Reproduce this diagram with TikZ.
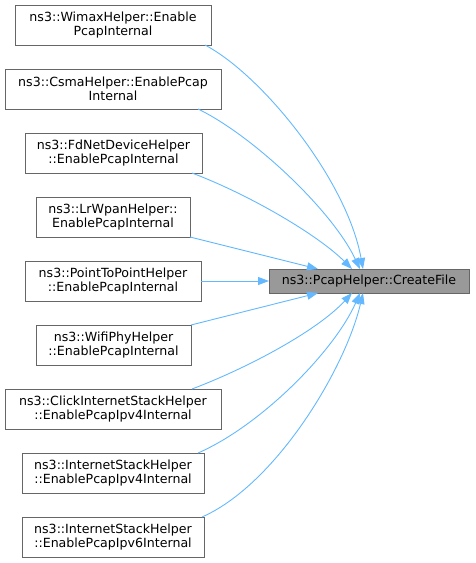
\documentclass[tikz,border=0pt]{standalone}
\usepackage{fontspec}
\setmainfont{DejaVu Sans}
\usetikzlibrary{arrows.meta}
\definecolor{edgeblue}{HTML}{63B8FF}
\definecolor{boxgray}{HTML}{666666}
\definecolor{tgtfill}{HTML}{999999}
\begin{document}
\begin{tikzpicture}[x=1pt,y=-1pt,
  fn/.style={draw=boxgray,line width=1pt,fill=white,inner sep=0pt,outer sep=0pt,
    align=center,minimum height=40pt,font=\fontsize{12.6}{14.5}\selectfont},
  tgt/.style={fn,fill=tgtfill,minimum height=24pt,minimum width=200pt,draw=boxgray},
  calls/.style={draw=edgeblue,line width=0.9pt,-{Triangle[length=11pt,width=8pt]}}]
\useasboundingbox (0,0) rectangle (475,563);
\node[fn,minimum width=196pt] (wimax) at (113,25) {ns3::WimaxHelper::Enable\\PcapInternal};
\node[fn,minimum width=216pt] (csma) at (113,89) {ns3::CsmaHelper::EnablePcap\\Internal};
\node[fn,minimum width=177pt] (fdnet) at (113.5,153) {ns3::FdNetDeviceHelper\\::EnablePcapInternal};
\node[fn,minimum width=154pt] (lrwpan) at (113,217) {ns3::LrWpanHelper::\\EnablePcapInternal};
\node[fn,minimum width=176pt] (p2p) at (113,281) {ns3::PointToPointHelper\\::EnablePcapInternal};
\node[fn,minimum width=155pt] (wifi) at (113.5,345) {ns3::WifiPhyHelper\\::EnablePcapInternal};
\node[fn,minimum width=216pt] (click) at (113,409) {ns3::ClickInternetStackHelper\\::EnablePcapIpv4Internal};
\node[fn,minimum width=182pt] (inet4) at (113,473) {ns3::InternetStackHelper\\::EnablePcapIpv4Internal};
\node[fn,minimum width=182pt] (inet6) at (113,537) {ns3::InternetStackHelper\\::EnablePcapIpv6Internal};
\node[tgt] (target) at (369,281) {ns3::PcapHelper::CreateFile};

\draw[calls] ([xshift=-6pt]wimax.south east) .. controls (262,75) and (347,180) .. ([xshift=-6pt]target.north);
\draw[calls] ([xshift=-23pt]csma.south east) .. controls (252,135) and (332,210) .. ([xshift=-9pt]target.north);
\draw[calls] ([xshift=-10pt]fdnet.south east) .. controls (250,195) and (318,235) .. ([xshift=-17pt]target.north);
\draw[calls] (lrwpan.south east) -- ([xshift=-51pt]target.north);
\draw[calls] (p2p.east) -- (target.west);
\draw[calls] (wifi.north east) -- ([xshift=-51pt]target.south);
\draw[calls] ([xshift=-29pt]click.north east) .. controls (250,367) and (318,330) .. ([xshift=-17pt]target.south);
\draw[calls] ([xshift=-6pt]inet4.north east) .. controls (262,425) and (335,350) .. ([xshift=-9pt]target.south);
\draw[calls] ([xshift=-2pt]inet6.north east) .. controls (275,485) and (345,370) .. ([xshift=-6pt]target.south);
\end{tikzpicture}
\end{document}
